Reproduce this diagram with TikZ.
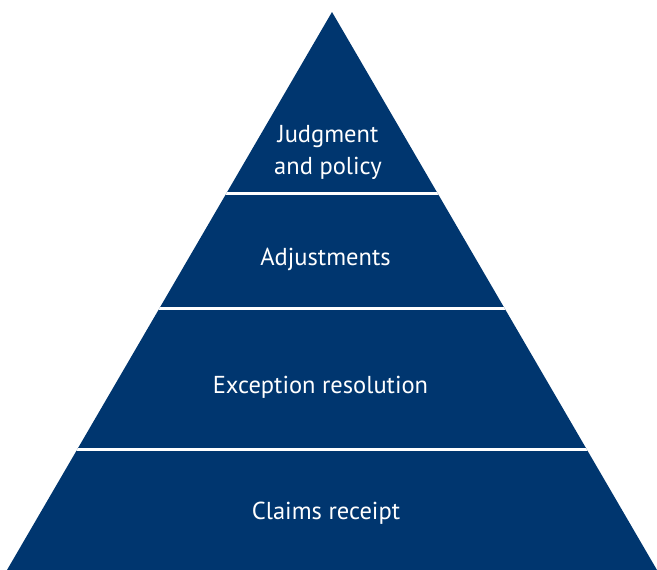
\documentclass[tikz,border=0pt]{standalone}
\usepackage{fontspec}
\setmainfont{PT Sans}
\definecolor{navy}{HTML}{00366F}
\begin{document}
\begin{tikzpicture}[x=1pt,y=-1pt,
  label/.style={text=white,font=\fontsize{24.5}{32}\selectfont,align=center,inner sep=0pt},
  gap/.style={white,line width=3pt}]
\useasboundingbox (0,0) rectangle (657,570);
\coordinate (apex) at (332,12);
\coordinate (bl) at (7,570);
\coordinate (br) at (657,570);
\fill[navy] (apex) -- (br) -- (bl) -- cycle;
\begin{scope}
\clip (apex) -- (br) -- (bl) -- cycle;
\draw[gap] (0,193.5) -- (657,193.5);
\draw[gap] (0,308.5) -- (657,308.5);
\draw[gap] (0,449.5) -- (657,449.5);
\end{scope}
\node[label] (l1) at (328,152) {Judgment\\and policy};
\node[label] (l2) at (325.5,259) {Adjustments};
\node[label] (l3) at (320.5,387) {Exception resolution};
\node[label] (l4) at (326,513) {Claims receipt};
\end{tikzpicture}
\end{document}
